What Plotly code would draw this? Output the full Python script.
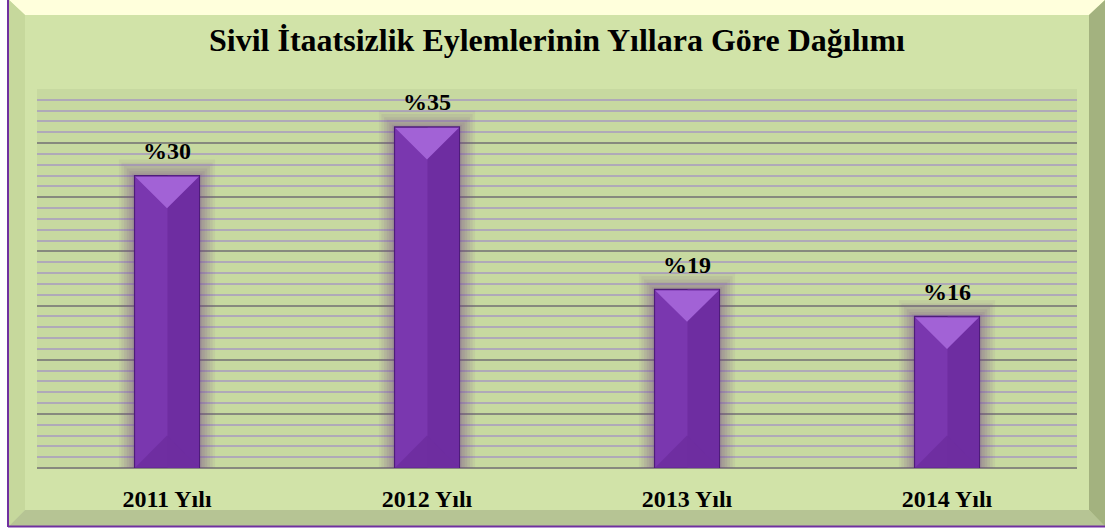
import plotly.graph_objects as go

# ---- data ----
categories = ["2011 Yılı", "2012 Yılı", "2013 Yılı", "2014 Yılı"]
counts = [54, 63, 33, 28]            # bar heights (0-70 scale)
pct_labels = ["%30", "%35", "%19", "%16"]

W, H = 1105, 529
ML, MR, MT, MB = 37, 28, 89, 61
PW, PH = W - ML - MR, H - MT - MB
YMAX = 70
BAR_W = 0.25

xs = list(range(len(categories)))

def px(x):
    return (x - ML) / PW

def py(y):
    return 1 - (y - MT) / PH

def path(points):
    return "M " + " L ".join(f"{px(a):.5f},{py(b):.5f}" for a, b in points) + " Z"

fig = go.Figure()

# glow halos
glow = [(0.12, 3.0, 0.07), (0.10, 2.4, 0.08), (0.08, 1.8, 0.09), (0.06, 1.3, 0.10), (0.04, 0.8, 0.11), (0.02, 0.4, 0.12)]
for extra_w, extra_h, op in glow:
    fig.add_trace(go.Bar(x=xs, y=[v + extra_h for v in counts], width=BAR_W + extra_w,
                         marker=dict(color=f"rgba(115,70,140,{op})", line=dict(width=0)),
                         hoverinfo="skip", showlegend=False))

# main bar
fig.add_trace(go.Bar(x=xs, y=counts, width=BAR_W,
                     marker=dict(color="#7A37AF", line=dict(color="#4E1C7A", width=1.2)),
                     showlegend=False))
# right darker half
fig.add_trace(go.Bar(x=[x + BAR_W / 4 for x in xs], y=counts, width=BAR_W / 2 - 0.004,
                     marker=dict(color="#6E2DA1", line=dict(width=0)),
                     hoverinfo="skip", showlegend=False))

# bevel triangles (derived from data)
d = (BAR_W / 2 * PW / len(categories)) / (PH / YMAX)
tx, ty = [], []
bx, by = [], []
for x, v in zip(xs, counts):
    tx += [x - BAR_W / 2 + 0.003, x + BAR_W / 2 - 0.003, x, x - BAR_W / 2 + 0.003, None]
    ty += [v - 0.2, v - 0.2, v - d, v - 0.2, None]
    bx += [x - BAR_W / 2 + 0.003, x + BAR_W / 2 - 0.003, x, x - BAR_W / 2 + 0.003, None]
    by += [0.1, 0.1, d, 0.1, None]
fig.add_trace(go.Scatter(x=bx, y=by, fill="toself", mode="lines", line=dict(width=0),
                         fillcolor="rgba(110,45,160,0.9)", hoverinfo="skip", showlegend=False))
fig.add_trace(go.Scatter(x=tx, y=ty, fill="toself", mode="lines", line=dict(width=0),
                         fillcolor="#A262D6", hoverinfo="skip", showlegend=False))

# value labels
fig.add_trace(go.Scatter(x=xs, y=[v + 4.2 for v in counts], mode="text", text=pct_labels,
                         textposition="middle center",
                         textfont=dict(family="Liberation Serif", size=24, color="black", weight="bold"),
                         hoverinfo="skip", showlegend=False))

shapes = [
    # face
    dict(type="rect", xref="paper", yref="paper", x0=px(8), x1=px(1105), y0=py(527), y1=py(0),
         fillcolor="#D1E3A8", line=dict(width=0), layer="below"),
    # top bevel
    dict(type="path", xref="paper", yref="paper", path=path([(0, 0), (1105, 0), (1089, 15), (25, 15), (9, 0)]),
         fillcolor="#FFFFDC", line=dict(width=0), layer="below"),
    # left bevel
    dict(type="path", xref="paper", yref="paper", path=path([(9, 0), (25, 15), (25, 510), (9, 526)]),
         fillcolor="#C6D89C", line=dict(width=0), layer="below"),
    # right bevel
    dict(type="path", xref="paper", yref="paper", path=path([(1105, 0), (1105, 527), (1089, 510), (1089, 15)]),
         fillcolor="#A3B27F", line=dict(width=0), layer="below"),
    # bottom bevel
    dict(type="path", xref="paper", yref="paper", path=path([(9, 526), (25, 510), (1089, 510), (1105, 526)]),
         fillcolor="#B6C494", line=dict(width=0), layer="below"),
    # purple border
    dict(type="line", xref="paper", yref="paper", x0=px(8), x1=px(8), y0=py(527), y1=py(0),
         line=dict(color="#7030A0", width=2), layer="below"),
    dict(type="line", xref="paper", yref="paper", x0=px(8), x1=px(1105), y0=py(526.5), y1=py(526.5),
         line=dict(color="#7030A0", width=2), layer="below"),
    # plot area
    dict(type="rect", xref="paper", yref="paper", x0=0, x1=1, y0=0, y1=1,
         fillcolor="#C7D9A0", line=dict(width=0), layer="below"),
]

fig.update_layout(
    width=W, height=H,
    margin=dict(l=ML, r=MR, t=MT, b=MB, pad=0),
    paper_bgcolor="white",
    plot_bgcolor="rgba(0,0,0,0)",
    barmode="overlay",
    shapes=shapes,
    title=dict(text="Sivil İtaatsizlik Eylemlerinin Yıllara Göre Dağılımı",
               x=0.5, xanchor="center", xref="paper", y=1 - 40 / H, yanchor="middle",
               font=dict(family="Liberation Serif", size=32, color="black", weight="bold")),
    xaxis=dict(range=[-0.5, len(categories) - 0.5], tickvals=xs, ticktext=categories,
               showgrid=False, zeroline=False, showline=False, ticks="",
               ticklabelstandoff=14,
               tickfont=dict(family="Liberation Serif", size=24, color="black", weight="bold"),
               fixedrange=True),
    yaxis=dict(range=[0, YMAX], dtick=10, showticklabels=False, ticks="",
               showgrid=True, gridcolor="#87897E", gridwidth=1.6,
               zeroline=True, zerolinecolor="#87897E", zerolinewidth=1.6, showline=False,
               minor=dict(dtick=2, showgrid=True, gridcolor="#AFA9B8", gridwidth=1.5),
               fixedrange=True),
)

fig.write_html("out.html", config={"displayModeBar": False},
               post_script="document.body.style.margin='0';document.body.style.overflow='hidden';")
